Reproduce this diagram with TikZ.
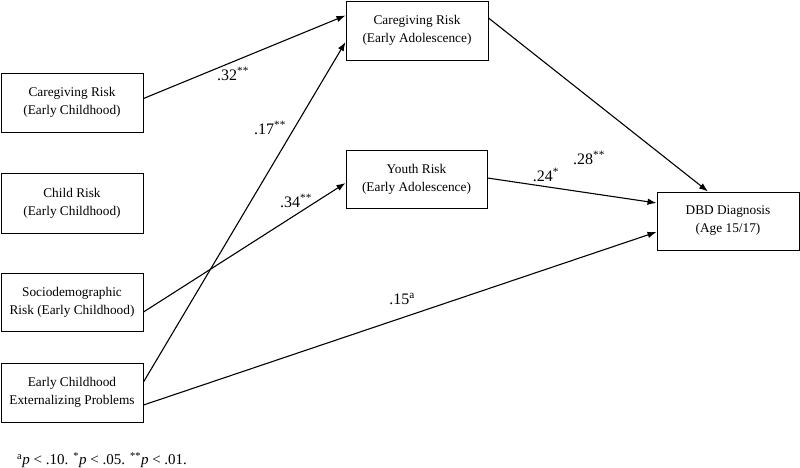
\documentclass[tikz,border=0pt]{standalone}
\usepackage{fontspec}
\setmainfont{Liberation Serif}
\usetikzlibrary{arrows.meta}
\begin{document}
\begin{tikzpicture}[x=1pt,y=-1pt,
  box/.style={draw,line width=1pt,minimum width=142pt,minimum height=59pt,inner sep=0pt,align=center,font=\fontsize{13.3}{18}\selectfont},
  arr/.style={line width=1.1pt,-{Latex[length=9pt,width=6.5pt]}},
  coef/.style={inner sep=0pt,font=\fontsize{16}{18}\selectfont}]
\useasboundingbox (0,0) rectangle (800,467);
\node[box] (cre) at (72,102.5) {Caregiving Risk\\(Early Childhood)};
\node[box,minimum height=60pt] (chr) at (72,203) {Child Risk\\(Early Childhood)};
\node[box,minimum height=58pt] (soc) at (72,302) {Sociodemographic\\Risk (Early Childhood)};
\node[box] (ext) at (72,392.5) {Early Childhood\\Externalizing Problems};
\node[box] (cra) at (417,30.5) {Caregiving Risk\\(Early Adolescence)};
\node[box,minimum height=58pt,minimum width=141pt] (yr) at (416.5,179) {Youth Risk\\(Early Adolescence)};
\node[box,minimum height=58pt] (dbd) at (728,221) {DBD Diagnosis\\(Age 15/17)};

\draw[arr] ([yshift=4pt]cre.east) -- ([yshift=15pt]cra.west);
\draw[arr] ([yshift=10.5pt]ext.east) -- ([yshift=-11.5pt]cra.west);
\draw[arr] ([yshift=-12.5pt]ext.east) -- ([yshift=-11pt]dbd.west);
\draw[arr] ([yshift=-10pt]soc.east) -- ([yshift=-4pt]yr.west);
\draw[arr] ([yshift=1pt]yr.east) -- ([yshift=18pt]dbd.west);
\draw[arr] ([yshift=12.5pt]cra.east) -- ([xshift=-20pt]dbd.north);

\node[coef] (l32) at (233,74) {.32\textsuperscript{**}};
\node[coef] (l17) at (270,128) {.17\textsuperscript{**}};
\node[coef] (l34) at (296,201) {.34\textsuperscript{**}};
\node[coef] (l28) at (589,158) {.28\textsuperscript{**}};
\node[coef] (l24) at (546,175) {.24\textsuperscript{*}};
\node[coef] (l15) at (402,299) {.15\textsuperscript{a}};
\node[coef,anchor=west,font=\fontsize{15}{17}\selectfont] (foot) at (17,460) {\textsuperscript{a}\textit{p} < .10. \textsuperscript{*}\textit{p} < .05. \textsuperscript{**}\textit{p} < .01.};
\end{tikzpicture}
\end{document}
